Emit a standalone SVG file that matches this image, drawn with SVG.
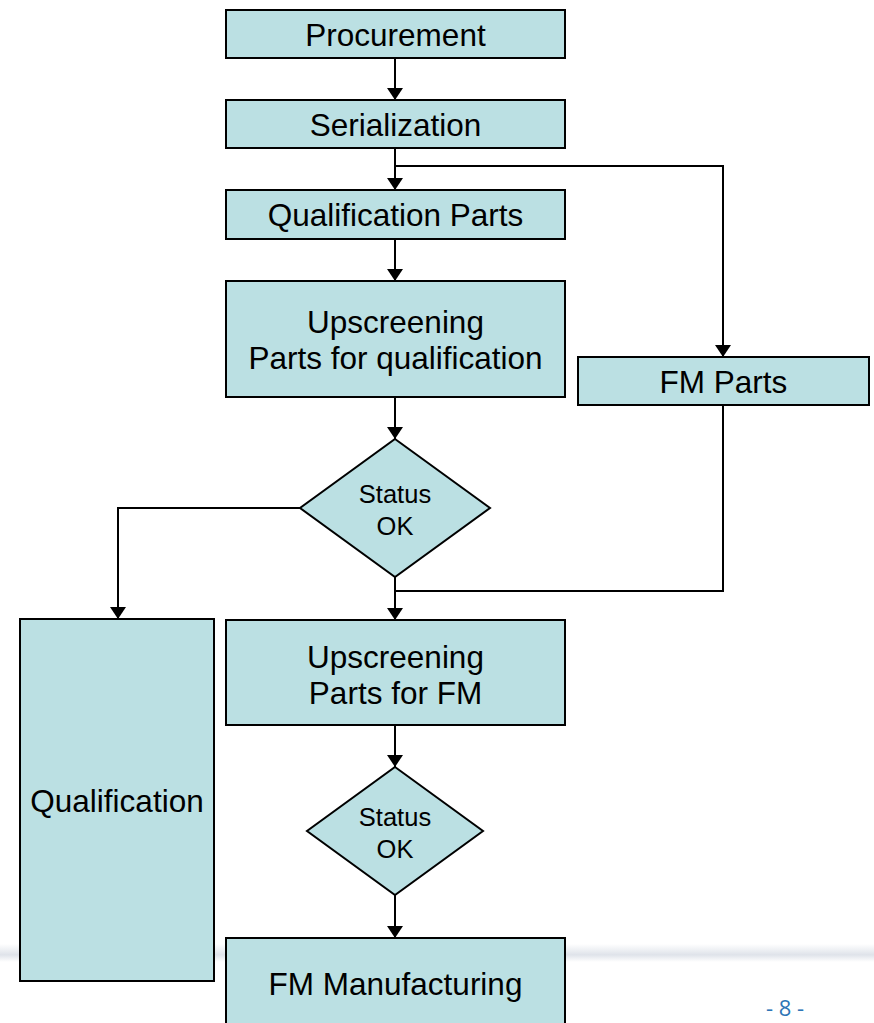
<svg xmlns="http://www.w3.org/2000/svg" width="874" height="1023" viewBox="0 0 874 1023">
<style>
.box{fill:#BBE0E3;stroke:#000;stroke-width:2}
.t{font-family:"Liberation Sans",Arial,sans-serif;font-size:31.5px;fill:#000;text-anchor:middle}
.s{font-family:"Liberation Sans",Arial,sans-serif;font-size:25.5px;fill:#000;text-anchor:middle}
.c{fill:none;stroke:#000;stroke-width:2}
</style>
<defs>
<marker id="arr" viewBox="0 0 12 16" refX="12" refY="8" markerWidth="12" markerHeight="16" markerUnits="userSpaceOnUse" orient="auto">
<path d="M0,0 L12,8 L0,16 Z" fill="#000"/>
</marker>
<linearGradient id="band" x1="0" y1="0" x2="0" y2="1">
<stop offset="0" stop-color="#ffffff"/>
<stop offset="0.6" stop-color="#dfe3ea"/>
<stop offset="1" stop-color="#ffffff"/>
</linearGradient>
</defs>
<rect width="874" height="1023" fill="#fff"/>
<rect x="0" y="944" width="874" height="18" fill="url(#band)"/>
<g id="connectors">
<path class="c" d="M395,58 V100" marker-end="url(#arr)"/>
<path class="c" d="M395,148 V190" marker-end="url(#arr)"/>
<path class="c" d="M395,166 H723 V357" marker-end="url(#arr)"/>
<path class="c" d="M395,239 V281" marker-end="url(#arr)"/>
<path class="c" d="M395,397 V439" marker-end="url(#arr)"/>
<path class="c" d="M300,508 H118 V619" marker-end="url(#arr)"/>
<path class="c" d="M395,577 V620" marker-end="url(#arr)"/>
<path class="c" d="M723,405 V591 H395"/>
<path class="c" d="M395,725 V767" marker-end="url(#arr)"/>
<path class="c" d="M395,895 V938" marker-end="url(#arr)"/>
</g>
<g id="procurement"><rect class="box" x="226" y="10" width="339" height="48"/><text class="t" x="395.5" y="46">Procurement</text></g>
<g id="serialization"><rect class="box" x="226" y="100" width="339" height="48"/><text class="t" x="395.5" y="136">Serialization</text></g>
<g id="qualification-parts"><rect class="box" x="226" y="190" width="339" height="49"/><text class="t" x="395.5" y="226">Qualification Parts</text></g>
<g id="upscreening-qual"><rect class="box" x="226" y="281" width="339" height="116"/><text class="t" x="395.5" y="333">Upscreening</text><text class="t" x="395.5" y="369">Parts for qualification</text></g>
<g id="fm-parts"><rect class="box" x="578" y="357" width="291" height="48"/><text class="t" x="723.5" y="393">FM Parts</text></g>
<g id="status1"><polygon class="box" points="395,439 490,508 395,577 300,508"/><text class="s" x="395" y="503">Status</text><text class="s" x="395" y="535">OK</text></g>
<g id="qualification"><rect class="box" x="20" y="619" width="194" height="362"/><text class="t" x="117" y="812">Qualification</text></g>
<g id="upscreening-fm"><rect class="box" x="226" y="620" width="339" height="105"/><text class="t" x="395.5" y="668">Upscreening</text><text class="t" x="395.5" y="704">Parts for FM</text></g>
<g id="status2"><polygon class="box" points="395,767 483,831 395,895 307,831"/><text class="s" x="395" y="826">Status</text><text class="s" x="395" y="858">OK</text></g>
<g id="fm-manufacturing"><rect class="box" x="226" y="938" width="339" height="95"/><text class="t" x="395.5" y="995">FM Manufacturing</text></g>
<text x="785" y="1016" font-family="'Open Sans','Noto Sans',sans-serif" font-size="22" fill="#2E75B6" text-anchor="middle">- 8 -</text>
</svg>
